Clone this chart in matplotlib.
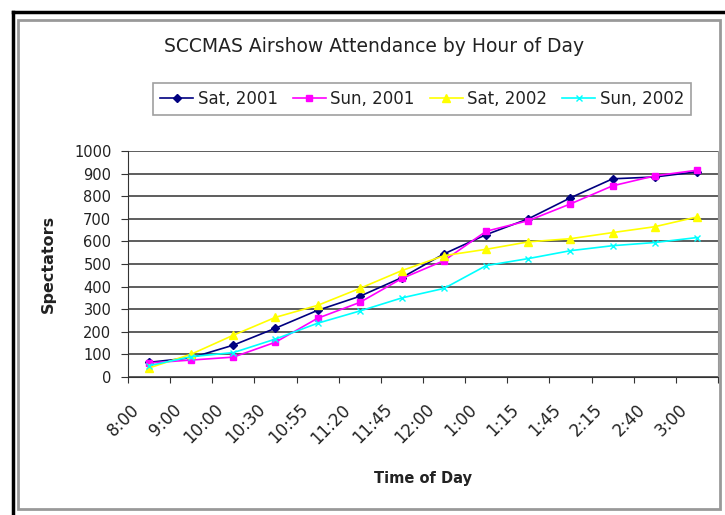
import matplotlib.pyplot as plt
import numpy as np

# Dados
horarios = ["8:00", "9:00", "10:00", "10:30", "10:55", "11:20", "11:45",
            "12:00", "1:00", "1:15", "1:45", "2:15", "2:40", "3:00"]

sab_2001 = [65, 85, 141, 216, 295, 357, 440, 545, 630, 700, 793, 877, 885, 908]
dom_2001 = [62, 75, 88, 154, 260, 330, 436, 515, 645, 692, 766, 846, 890, 915]
sab_2002 = [40, 101, 185, 264, 317, 392, 471, 537, 565, 598, 612, 639, 665, 708]
dom_2002 = [50, 90, 108, 168, 238, 292, 350, 392, 493, 524, 559, 581, 595, 617]

nomes = ["Sat, 2001", "Sun, 2001", "Sat, 2002", "Sun, 2002"]
series = [sab_2001, dom_2001, sab_2002, dom_2002]

plt.rcParams['font.family'] = ['DejaVu Sans']

fig = plt.figure(figsize=(7.25, 5.15), dpi=100)
ax = fig.add_axes([128 / 725, 1 - 377 / 515, 590 / 725, 226 / 515])

x = np.arange(len(horarios))
estilos = [
    dict(color='#000080', marker='D', markersize=4),
    dict(color='#ff00ff', marker='s', markersize=5),
    dict(color='#ffff00', marker='^', markersize=6),
    dict(color='#00ffff', marker='x', markersize=5),
]
for nome, valores, estilo in zip(nomes, series, estilos):
    ax.plot(x, valores, label=nome, linewidth=1.2, **estilo)

# Eixos no estilo do Excel
ax.set_xlim(-0.5, len(horarios) - 0.5)
ax.set_ylim(0, 1000)
ax.set_yticks(np.arange(0, 1001, 100))
ax.set_xticks(np.arange(-0.5, len(horarios), 1))
ax.set_xticklabels([])
# rótulos ligeiramente à esquerda do centro da categoria, como no Excel
ax.set_xticks(x - 0.45, minor=True)
ax.set_xticklabels(horarios, minor=True, rotation=45, ha='right', va='top',
                   rotation_mode='anchor', fontsize=12, color='#222222')
ax.tick_params(axis='x', which='minor', length=0, pad=17)
ax.tick_params(axis='x', which='major', length=4, direction='out', color='#333333')
ax.tick_params(axis='y', length=5, direction='out', labelsize=10.5, pad=7,
               labelcolor='#222222', color='#333333')

ax.grid(True, axis='y', color='#505050', linewidth=1.3)
ax.set_axisbelow(True)
ax.spines['top'].set_visible(False)
ax.spines['right'].set_color('#999999')
ax.spines['left'].set_color('#333333')
ax.spines['bottom'].set_color('#333333')

ax.set_ylabel('Spectators', fontsize=11.5, fontweight='bold', labelpad=13,
              color='#222222')
fig.text(423 / 725, 1 - 478 / 515, 'Time of Day', ha='center', va='center',
         fontsize=10.5, fontweight='bold', color='#222222')

fig.text(374 / 725, 1 - 47 / 515, 'SCCMAS Airshow Attendance by Hour of Day',
         ha='center', va='center', fontsize=13.5, color='#222222')

leg = fig.legend(loc='center', bbox_to_anchor=(422 / 725, 1 - 99 / 515), ncol=4,
                 fontsize=12, frameon=True, fancybox=False, edgecolor='#888888',
                 handlelength=2.0, handletextpad=0.25, columnspacing=0.9,
                 borderpad=0.4, borderaxespad=0)
leg.get_frame().set_linewidth(1.2)
for t in leg.get_texts():
    t.set_color('#222222')

# Molduras do objeto do gráfico
fig.add_artist(plt.Line2D([13 / 725, 13 / 725], [0, 1 - 12 / 515],
                          color='black', linewidth=2.5, transform=fig.transFigure))
fig.add_artist(plt.Line2D([13 / 725, 1], [1 - 12 / 515, 1 - 12 / 515],
                          color='black', linewidth=2.5, transform=fig.transFigure))
fig.add_artist(plt.Rectangle((18 / 725, 6 / 515), 702 / 725, 1 - 26 / 515,
                             fill=False, edgecolor='#999999', linewidth=2,
                             transform=fig.transFigure))

fig.savefig('out.png', dpi=100)
